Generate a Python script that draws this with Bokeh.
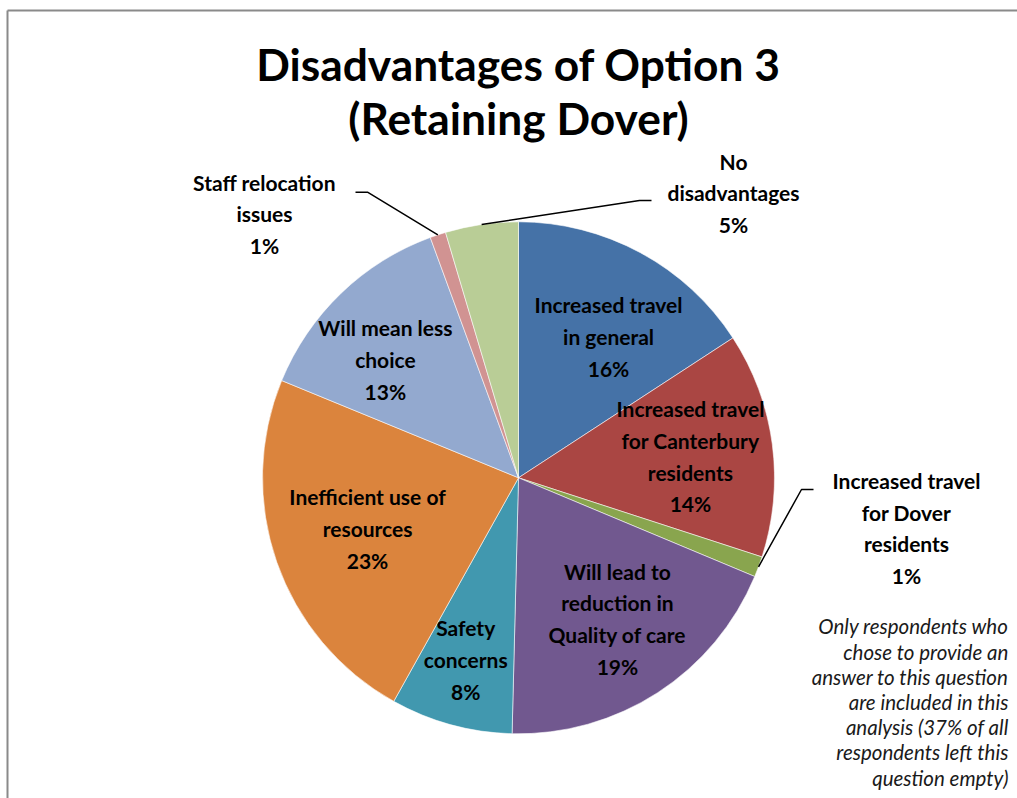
import math
from bokeh.plotting import figure
from bokeh.models import Range1d, ColumnDataSource
from bokeh.core.properties import value
from bokeh.embed import file_html
from bokeh.resources import INLINE

# ---------------- data ----------------
categories = [
    "Increased travel\nin general",
    "Increased travel\nfor Canterbury\nresidents",
    "Increased travel\nfor Dover\nresidents",
    "Will lead to\nreduction in\nQuality of care",
    "Safety\nconcerns",
    "Inefficient use of\nresources",
    "Will mean less\nchoice",
    "Staff relocation\nissues",
    "No\ndisadvantages",
]
percent_values = [15.8, 14.2, 1.3, 19.1, 7.7, 23.1, 13.2, 1.0, 4.6]
colors = ["#4572A7", "#AA4643", "#89A54E", "#71588F", "#4198AF",
          "#DB843D", "#93A9CF", "#D19392", "#B9CD96"]
title_lines = ["Disadvantages of Option 3", "(Retaining Dover)"]
note_text = ("Only respondents who\nchose to provide an\nanswer to this question\n"
             "are included in this\nanalysis (37% of all\nrespondents left this\nquestion empty)")

# ---------------- layout ----------------
W, H = 1017, 798
def X(px): return px
def Y(py): return H - py

CX, CY, R = X(518), Y(477.3), 256
FONT = "Lato"
LH = 1.2  # font metric height factor used by Bokeh for line spacing

p = figure(width=W, height=H, x_range=Range1d(0, W), y_range=Range1d(0, H),
           output_backend="svg", toolbar_location=None, min_border=0,
           x_axis_location=None, y_axis_location=None)
p.grid.visible = False
p.outline_line_color = None
p.background_fill_color = "white"
p.border_fill_color = "white"

# frame border (left and top)
p.line(x=[X(7), X(7)], y=[0, Y(10)], line_color="#8a8a8a", line_width=2)
p.line(x=[X(7), W], y=[Y(10), Y(10)], line_color="#8a8a8a", line_width=2)

total = sum(percent_values)
fracs = [v / total for v in percent_values]
cum = []
c = 0.0
for f in fracs:
    cum.append(c)
    c += f
starts = [math.pi / 2 - 2 * math.pi * c0 for c0 in cum]
ends = [math.pi / 2 - 2 * math.pi * (c0 + f) for c0, f in zip(cum, fracs)]
mids = [2 * math.pi * (c0 + f / 2) for c0, f in zip(cum, fracs)]  # clockwise from top

src = ColumnDataSource(dict(start=starts, end=ends, color=colors))
p.wedge(x=CX, y=CY, radius=R, start_angle="start", end_angle="end",
        direction="clock", fill_color="color", line_color="white",
        line_width=0.8, line_alpha=0.7, source=src)

pct_labels = [f"{round(v)}%" for v in percent_values]
texts = [f"{cat}\n{pct}" for cat, pct in zip(categories, pct_labels)]

# inside labels: (radius fraction, angular nudge in degrees)
inside = {0: (0.654, 4.1), 1: (0.677, 0.4), 3: (0.673, -2.1),
          4: (0.739, 0.9), 5: (0.622, 0.7), 6: (0.695, -4.5)}
lx, ly, lt = [], [], []
for i, (rf, nudge) in inside.items():
    a = mids[i] + math.radians(nudge)
    lx.append(CX + rf * R * math.sin(a))
    ly.append(CY + rf * R * math.cos(a))
    lt.append(texts[i])

# outside labels: text centre, elbow and end of leader line (page px)
outside = {2: ((906, 527.5), (801, 489), (813, 489)),
           7: ((264, 213.5), (367, 191.7), (355, 191.7)),
           8: ((733, 192.5), (639, 200), (651, 200))}
for i, (tc, elbow, end) in outside.items():
    a = mids[i]
    sx = CX + R * math.sin(a)
    sy = CY + R * math.cos(a)
    p.line(x=[sx, X(elbow[0]), X(end[0])], y=[sy, Y(elbow[1]), Y(end[1])],
           line_color="black", line_width=1.5)
    lx.append(X(tc[0]))
    ly.append(Y(tc[1]))
    lt.append(texts[i])

LFS = 21
p.text(x=lx, y=ly, text=lt, text_font=value(FONT), text_font_style="bold",
       text_font_size=f"{LFS}px", text_align="center", text_baseline="middle",
       text_line_height=32 / (LFS * LH), text_color="black")

# title
p.text(x=[X(518), X(518)], y=[Y(63), Y(117)], text=title_lines,
       text_font=value(FONT), text_font_style="bold", text_font_size="44.3px",
       text_align="center", text_baseline="alphabetic", text_color="black")

# note
NFS = 20.5
p.text(x=[X(1008)], y=[Y(701.5)], text=[note_text], text_font=value(FONT),
       text_font_style="italic", text_font_size=f"{NFS}px", text_align="right",
       text_baseline="middle", text_line_height=25.8 / (NFS * LH), text_color="#1a1a1a")

open("out.html", "w").write(file_html(p, INLINE))
